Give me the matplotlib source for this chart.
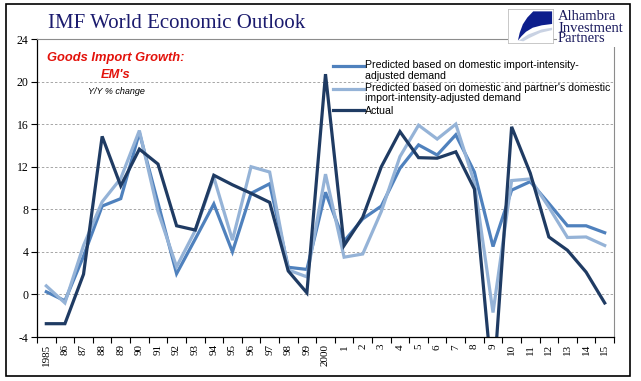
import numpy as np
import matplotlib.pyplot as plt
from matplotlib.patches import Rectangle, Polygon
from matplotlib.legend_handler import HandlerLine2D

# IMF WEO: goods import growth, emerging markets, y/y % change
years = list(range(1985, 2016))
year_labels = ['1985', '86', '87', '88', '89', '90', '91', '92', '93', '94',
               '95', '96', '97', '98', '99', '2000', '1', '2', '3', '4',
               '5', '6', '7', '8', '9', '10', '11', '12', '13', '14', '15']

predicted_domestic = [0.25, -0.6, 3.6, 8.3, 9.0, 15.2, 8.6, 1.95, 5.2, 8.5,
                      4.0, 9.5, 10.4, 2.55, 2.35, 9.6, 5.0, 7.1, 8.3, 11.85,
                      14.05, 13.1, 15.0, 11.5, 4.5, 9.8, 10.6, 8.55, 6.45, 6.45,
                      5.8]
predicted_partner = [0.8, -0.8, 4.6, 8.7, 10.9, 15.4, 7.8, 2.6, 6.0, 11.0,
                     5.1, 12.0, 11.5, 2.3, 1.65, 11.3, 3.5, 3.8, 7.8, 12.95,
                     15.9, 14.6, 16.0, 10.5, -1.7, 10.7, 10.85, 8.2, 5.35, 5.4,
                     4.6]
actual = [-2.75, -2.75, 1.9, 14.85, 10.2, 13.65, 12.25, 6.45, 6.05, 11.2,
          10.3, 9.5, 8.65, 2.2, 0.15, 20.7, 4.6, 7.25, 12.0, 15.3,
          12.85, 12.8, 13.4, 9.9, -9.0, 15.75, 11.4, 5.4, 4.15, 2.1,
          -0.8]

series_labels = ['Predicted based on domestic import-intensity-\nadjusted demand',
                 "Predicted based on domestic and partner's domestic\nimport-intensity-adjusted demand",
                 'Actual']
series_colors = ['#4F81BD', '#95B3D7', '#1F3B63']
y_ticks = list(range(-4, 25, 4))

W, H = 641, 381


def px(x, y):
    # pixel position (from top-left) -> figure fraction
    return x / W, 1 - y / H


class FirstLineHandler(HandlerLine2D):
    # Excel puts the legend key next to the first line of a wrapped label
    def __init__(self, shift, **kw):
        super().__init__(**kw)
        self.shift = shift

    def create_artists(self, legend, orig_handle, xdescent, ydescent,
                       width, height, fontsize, trans):
        return super().create_artists(legend, orig_handle, xdescent,
                                      ydescent - self.shift, width, height,
                                      fontsize, trans)


fig = plt.figure(figsize=(W / 100, H / 100), dpi=100)
ax = fig.add_axes([37 / W, 1 - 337 / H, (614 - 37) / W, (337 - 39) / H])

x = np.arange(len(years))
handles = []
for vals, lab, col in zip([predicted_domestic, predicted_partner, actual],
                          series_labels, series_colors):
    h, = ax.plot(x, vals, color=col, lw=2.3, solid_joinstyle='miter', label=lab)
    handles.append(h)

ax.set_xlim(-0.5, len(years) - 0.5)
ax.set_ylim(-4, 24)
ax.set_yticks(y_ticks)
ax.set_yticklabels([str(t) for t in y_ticks], family='Liberation Serif', fontsize=8.5)
ax.set_xticks(x)
ax.set_xticklabels(year_labels, rotation=90, family='Liberation Serif', fontsize=8)
ax.set_xticks(np.arange(-0.5, len(years)), minor=True)
ax.tick_params(axis='x', which='major', length=0, pad=5)
ax.tick_params(axis='x', which='minor', length=4, width=0.8, direction='out')
ax.tick_params(axis='y', length=4, width=0.8, direction='out', pad=2)

for t in y_ticks[1:-1]:
    ax.axhline(t, color='#A6A6A6', lw=0.7, ls=(0, (2.5, 2)), zorder=0)

for s in ['left', 'bottom']:
    ax.spines[s].set_color('black')
    ax.spines[s].set_linewidth(0.9)
for s in ['top', 'right']:
    ax.spines[s].set_color('#8C8C8C')
    ax.spines[s].set_linewidth(0.8)

leg_size = 7.6
shift = leg_size * 0.85
hmap = {handles[0]: FirstLineHandler(shift),
        handles[1]: FirstLineHandler(shift),
        handles[2]: FirstLineHandler(0)}
leg = ax.legend(handles=handles, loc='upper left', handler_map=hmap,
                bbox_to_anchor=px(333, 60), bbox_transform=fig.transFigure,
                frameon=False, prop={'family': 'Liberation Sans', 'size': leg_size},
                handlelength=2.9, handletextpad=0.1, labelspacing=0.22,
                borderpad=0, borderaxespad=0)
for txt in leg.get_texts():
    txt.set_linespacing(1.07)

# titles
fig.text(*px(177, 23), 'IMF World Economic Outlook', family='Liberation Serif',
         fontsize=15, color='#1B1B6E', ha='center', va='center')
fig.text(*px(116, 58), 'Goods Import Growth:', family='Liberation Sans',
         fontsize=9.3, color='#E3120B', fontweight='bold', fontstyle='italic',
         ha='center', va='center')
fig.text(*px(116, 75), "EM's", family='Liberation Sans',
         fontsize=9.3, color='#E3120B', fontweight='bold', fontstyle='italic',
         ha='center', va='center')
fig.text(*px(116, 91), 'Y/Y % change', family='Liberation Sans',
         fontsize=6.5, color='black', fontstyle='italic', ha='center', va='center')

# logo box with the swoosh
lx, ly = px(508, 43)
lax = fig.add_axes([lx, ly, 45 / W, 34 / H])
lax.set_xlim(0, 1)
lax.set_ylim(0, 1)
lax.set_xticks([])
lax.set_yticks([])
for s in lax.spines.values():
    s.set_color('#BFBFBF')
    s.set_linewidth(0.6)
swoosh = [[0.56, 0.93], [0.98, 0.93], [0.98, 0.56], [0.75, 0.52], [0.55, 0.45],
          [0.40, 0.33], [0.30, 0.20], [0.22, 0.07], [0.26, 0.30], [0.33, 0.55],
          [0.43, 0.75]]
lax.add_patch(Polygon(swoosh, closed=True, color='#0D1E8C', lw=0))
band = [[0.24, 0.07], [0.45, 0.25], [0.75, 0.40], [0.98, 0.45], [0.98, 0.38],
        [0.72, 0.30], [0.48, 0.15], [0.34, 0.05]]
lax.add_patch(Polygon(band, closed=True, color='#C9D2E3', lw=0))

fig.text(*px(558, 28), 'Alhambra\nInvestment\nPartners', family='Liberation Serif',
         fontsize=10.5, color='#1B1B5E', ha='left', va='center', linespacing=0.8,
         bbox=dict(facecolor='white', edgecolor='none', pad=1))

# outer frame
fig.add_artist(Rectangle(px(6, 376), 624 / W, 372 / H, transform=fig.transFigure,
                         fill=False, edgecolor='black', lw=1.2))

fig.savefig('out.png', dpi=100)
